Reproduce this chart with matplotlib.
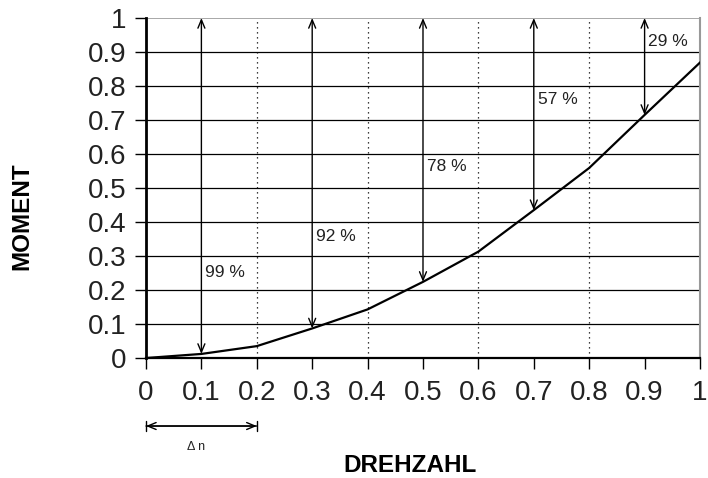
import matplotlib.pyplot as plt
import numpy as np

# Drehzahl / Moment curve
drehzahl = [0.0, 0.1, 0.2, 0.3, 0.4, 0.5, 0.6, 0.7, 0.8, 0.9, 1.0]
moment = [0.0, 0.012, 0.035, 0.087, 0.143, 0.224, 0.313, 0.435, 0.559, 0.715, 0.869]

# double arrows from curve up to 1, with their percentage labels
arrow_x = [0.1, 0.3, 0.5, 0.7, 0.9]
arrow_labels = ["99 %", "92 %", "78 %", "57 %", "29 %"]
label_y = [0.253, 0.356, 0.562, 0.76, 0.93]

tick_vals = [0.0, 0.1, 0.2, 0.3, 0.4, 0.5, 0.6, 0.7, 0.8, 0.9, 1.0]
tick_labels = ["0", "0.1", "0.2", "0.3", "0.4", "0.5", "0.6", "0.7", "0.8", "0.9", "1"]

plt.rcParams["font.family"] = ["Liberation Sans", "DejaVu Sans"]

fig = plt.figure(figsize=(7.08, 4.78), dpi=100)
ax = fig.add_axes([0.2062, 0.251, 0.7825, 0.7113])

# grid
for y in tick_vals[1:-1]:
    ax.axhline(y, color="black", linewidth=0.9, zorder=1)
ax.axhline(1.0, color="#999999", linewidth=1.2, zorder=1)
for x in [0.2, 0.4, 0.6, 0.8]:
    ax.axvline(x, color="black", linewidth=0.9, linestyle=(0, (1, 3)), zorder=1)

ax.plot(drehzahl, moment, color="black", linewidth=1.6, zorder=3)

for x, lab, ly in zip(arrow_x, arrow_labels, label_y):
    m = moment[drehzahl.index(x)]
    ax.annotate("", xy=(x, 1.0), xytext=(x, m),
                arrowprops=dict(arrowstyle="<->,head_length=0.6,head_width=0.25",
                                color="black", lw=1.0, shrinkA=0, shrinkB=0),
                zorder=4)
    ax.text(x + 0.007, ly, lab, fontsize=12.5, va="center", ha="left",
            color="#222222", zorder=5)

ax.set_xlim(0, 1)
ax.set_ylim(0, 1)
ax.set_xticks(tick_vals)
ax.set_xticklabels(tick_labels)
ax.set_yticks(tick_vals)
ax.set_yticklabels(tick_labels)
ax.tick_params(axis="both", labelsize=20, color="black", width=1.0, length=8,
               direction="out", labelcolor="#222222")
ax.tick_params(axis="x", pad=8)
ax.tick_params(axis="y", pad=6)

ax.spines["left"].set_linewidth(2.0)
ax.spines["bottom"].set_linewidth(1.6)
ax.spines["right"].set_color("#999999")
ax.spines["right"].set_linewidth(1.5)
ax.spines["top"].set_visible(False)

fig.text(22 / 708, 1 - 216 / 478, "MOMENT", fontsize=17.5, fontweight="bold",
         rotation=90, ha="center", va="center")
fig.text(410 / 708, 1 - 465 / 478, "DREHZAHL", fontsize=17.5, fontweight="bold",
         ha="center", va="center")

# delta n marker below the x axis
ax.annotate("", xy=(0.0, -0.2), xytext=(0.2, -0.2),
            arrowprops=dict(arrowstyle="|-|,widthA=0.35,widthB=0.35", color="black",
                            lw=1.0, shrinkA=0, shrinkB=0),
            annotation_clip=False)
ax.annotate("", xy=(0.0, -0.2), xytext=(0.2, -0.2),
            arrowprops=dict(arrowstyle="<->,head_length=0.6,head_width=0.25",
                            color="black", lw=1.0, shrinkA=0, shrinkB=0),
            annotation_clip=False)
ax.text(0.09, -0.262, "Δ n", fontsize=9, ha="center", va="center",
        color="#222222", clip_on=False)

fig.savefig("out.png", dpi=100)
